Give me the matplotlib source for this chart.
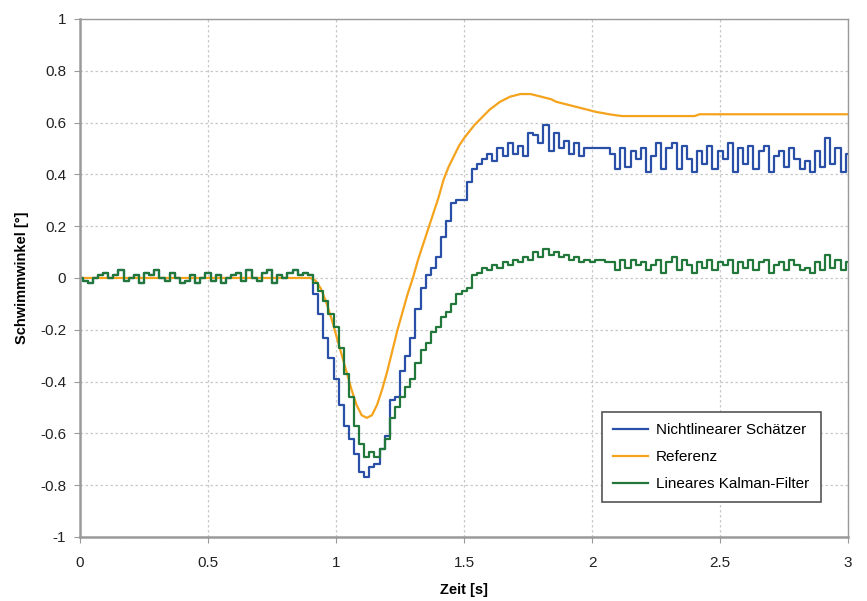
import numpy as np
import matplotlib
matplotlib.use("Agg")
import matplotlib.pyplot as plt

plt.rcParams["font.family"] = ["Liberation Sans", "DejaVu Sans"]

DT = 0.02  # Abtastschritt [s]

# 0 .. 0.90 s (46 Werte), beide Schaetzer nahezu gleich
flat = [0.00, -0.01, -0.02, 0.00, 0.01, 0.02, 0.00, 0.01, 0.03, -0.01,
        0.00, 0.01, -0.02, 0.02, 0.01, 0.03, 0.00, -0.01, 0.02, 0.00,
        -0.02, -0.01, 0.01, -0.02, 0.00, 0.02, -0.01, 0.01, -0.02, 0.00,
        0.01, 0.02, -0.01, 0.03, 0.00, -0.01, 0.02, 0.03, -0.02, 0.01,
        0.00, 0.02, 0.03, 0.01, 0.02, 0.01]

# 0.92 .. 3.00 s (105 Werte)
blue_tail = [-0.06, -0.14, -0.23, -0.31, -0.39, -0.49, -0.57, -0.62, -0.68, -0.75,
             -0.77, -0.73, -0.72, -0.66, -0.61, -0.47, -0.46, -0.36, -0.30, -0.23,
             -0.12, -0.04, 0.01, 0.04, 0.08, 0.16, 0.22, 0.29, 0.30, 0.30,
             0.37, 0.42, 0.44, 0.46, 0.48, 0.45, 0.50, 0.47, 0.52, 0.48,
             0.51, 0.47, 0.56, 0.55, 0.52, 0.59, 0.49, 0.56, 0.50, 0.53,
             0.48, 0.52, 0.47, 0.50, 0.50, 0.50, 0.50, 0.50, 0.48, 0.42,
             0.50, 0.43, 0.49, 0.46, 0.50, 0.41, 0.47, 0.52, 0.42, 0.50,
             0.52, 0.42, 0.51, 0.46, 0.41, 0.49, 0.44, 0.51, 0.42, 0.49,
             0.46, 0.52, 0.41, 0.50, 0.44, 0.51, 0.42, 0.49, 0.51, 0.41,
             0.47, 0.49, 0.43, 0.50, 0.46, 0.42, 0.45, 0.41, 0.49, 0.43,
             0.54, 0.44, 0.50, 0.41, 0.48]

green_tail = [-0.02, -0.05, -0.09, -0.14, -0.19, -0.27, -0.37, -0.46, -0.57, -0.64,
              -0.69, -0.67, -0.69, -0.66, -0.62, -0.54, -0.50, -0.46, -0.42, -0.39,
              -0.33, -0.28, -0.25, -0.21, -0.19, -0.15, -0.13, -0.10, -0.06, -0.05,
              -0.04, 0.01, 0.02, 0.04, 0.03, 0.05, 0.04, 0.06, 0.05, 0.07,
              0.06, 0.08, 0.07, 0.10, 0.08, 0.11, 0.09, 0.10, 0.08, 0.09,
              0.07, 0.08, 0.06, 0.07, 0.06, 0.07, 0.07, 0.06, 0.06, 0.03,
              0.07, 0.04, 0.07, 0.05, 0.06, 0.03, 0.05, 0.07, 0.02, 0.06,
              0.08, 0.03, 0.07, 0.05, 0.02, 0.06, 0.04, 0.07, 0.03, 0.06,
              0.05, 0.07, 0.02, 0.06, 0.04, 0.07, 0.03, 0.06, 0.07, 0.02,
              0.05, 0.06, 0.03, 0.07, 0.05, 0.03, 0.04, 0.02, 0.06, 0.03,
              0.09, 0.04, 0.07, 0.03, 0.06]

ref_tail = ([-0.01, -0.04, -0.09, -0.15, -0.22, -0.29, -0.36, -0.43, -0.49, -0.53,
             -0.54, -0.53, -0.49, -0.43, -0.36, -0.28, -0.20, -0.13, -0.06, 0.00,
             0.07, 0.13, 0.19, 0.25, 0.31, 0.38, 0.43, 0.47, 0.51, 0.54,
             0.565, 0.59, 0.61, 0.63, 0.65, 0.665, 0.68, 0.69, 0.70, 0.705,
             0.71, 0.71, 0.71, 0.705, 0.70, 0.695, 0.69, 0.68, 0.675, 0.67,
             0.665, 0.66, 0.655, 0.65, 0.645, 0.64, 0.637, 0.633, 0.63, 0.627]
            + [0.625] * 15 + [0.632] * 30)

nonlin = np.array(flat + blue_tail)
kalman = np.array(flat + green_tail)
referenz = np.array([0.0] * len(flat) + ref_tail)
assert len(nonlin) == len(kalman) == len(referenz) == 151
t = np.arange(len(nonlin)) * DT

fig = plt.figure(figsize=(8.67, 6.01), dpi=100)
ax = fig.add_axes([0.0923, 0.1065, 0.886, 0.862])

ax.plot(t, nonlin, color="#2a4fa6", lw=1.6, drawstyle="steps-mid", label="Nichtlinearer Schätzer")
ax.plot(t, referenz, color="#f5a31c", lw=1.6, label="Referenz")
ax.plot(t, kalman, color="#22783a", lw=1.6, drawstyle="steps-mid", label="Lineares Kalman-Filter")

ax.set_xlim(0, 3); ax.set_ylim(-1, 1)
ax.set_xticks([0, 0.5, 1, 1.5, 2, 2.5, 3])
ax.set_xticklabels(["0", "0.5", "1", "1.5", "2", "2.5", "3"])
ax.set_yticks(np.arange(-1, 1.01, 0.2))
ax.set_yticklabels(["-1", "-0.8", "-0.6", "-0.4", "-0.2", "0", "0.2", "0.4", "0.6", "0.8", "1"])
ax.grid(True, color="#c8c8c8", ls=(0, (2, 2)), lw=0.9)
for s in ax.spines.values():
    s.set_color("#9a9a9a"); s.set_linewidth(1.0)
ax.spines["left"].set_linewidth(1.8); ax.spines["bottom"].set_linewidth(1.8)
ax.tick_params(direction="out", length=4, color="#9a9a9a", labelsize=11,
               labelcolor="#222222", pad=6)
ax.tick_params(axis="x", pad=10)

ax.set_xlabel("Zeit [s]", fontsize=10.5, fontweight="bold", labelpad=9)
ax.set_ylabel("Schwimmwinkel [°]", fontsize=10.5, fontweight="bold", labelpad=8)

leg = ax.legend(loc="lower right", bbox_to_anchor=(0.974, 0.052), fontsize=11,
                fancybox=False, edgecolor="#555555", framealpha=1,
                handlelength=2.3, handletextpad=0.5, labelspacing=0.85, borderpad=0.75)
leg.get_frame().set_linewidth(1.2)

fig.savefig("out.png", dpi=100)
